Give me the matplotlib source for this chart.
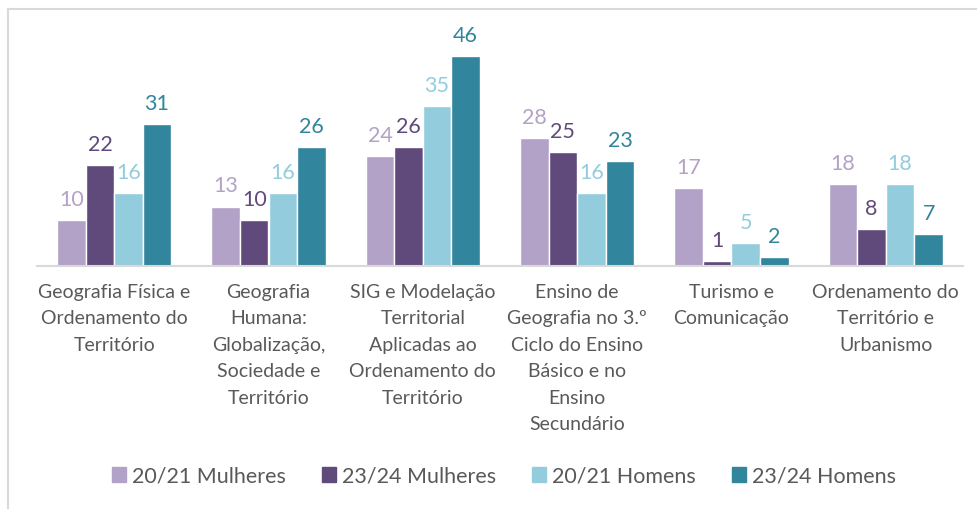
import matplotlib
matplotlib.use("Agg")
import matplotlib.pyplot as plt
from matplotlib.lines import Line2D
import numpy as np

categories = [
    "Geografia Física e\nOrdenamento do\nTerritório",
    "Geografia\nHumana:\nGlobalização,\nSociedade e\nTerritório",
    "SIG e Modelação\nTerritorial\nAplicadas ao\nOrdenamento do\nTerritório",
    "Ensino de\nGeografia no 3.º\nCiclo do Ensino\nBásico e no\nEnsino\nSecundário",
    "Turismo e\nComunicação",
    "Ordenamento do\nTerritório e\nUrbanismo",
]
series_names = ["20/21 Mulheres", "23/24 Mulheres", "20/21 Homens", "23/24 Homens"]
mulheres_2021 = [10, 13, 24, 28, 17, 18]
mulheres_2324 = [22, 10, 26, 25, 1, 8]
homens_2021 = [16, 16, 35, 16, 5, 18]
homens_2324 = [31, 26, 46, 23, 2, 7]
colors = ["#B3A2C7", "#604A7B", "#93CDDD", "#31859C"]

plt.rcParams['font.family'] = ['Lato', 'DejaVu Sans']
fig = plt.figure(figsize=(9.78, 5.1), dpi=100)
ax = fig.add_axes([37/978, 1-267/510, 926/978, 228.5/510])

x = np.arange(len(categories))
w = 0.185
data = [mulheres_2021, mulheres_2324, homens_2021, homens_2324]
for i, (vals, c) in enumerate(zip(data, colors)):
    pos = x + (i - 1.5) * w
    ax.bar(pos, vals, width=w, color=c, edgecolor="white", linewidth=1, label=series_names[i])
    for p, v in zip(pos, vals):
        ax.annotate(str(v), (p, v), xytext=(0, 8), textcoords="offset points",
                    ha="center", va="bottom", color=c, fontsize=15.5)

ax.set_xlim(-0.5, len(categories) - 0.5)
ax.set_ylim(0, 50)
ax.set_yticks([])
ax.set_xticks(x)
ax.set_xticklabels(categories, fontsize=14, color="#595959", linespacing=1.68)
ax.tick_params(axis="x", length=0, pad=12)
for s in ["top", "right", "left"]:
    ax.spines[s].set_visible(False)
ax.spines["bottom"].set_color("#D9D9D9")
ax.spines["bottom"].set_linewidth(1.5)

handles = [plt.Rectangle((0, 0), 1, 1, color=c) for c in colors]
fig.legend(handles, series_names, loc="center", bbox_to_anchor=(504/978, 1-477/510),
           ncol=4, frameon=False, fontsize=15.5, labelcolor="#595959",
           handlelength=0.65, handleheight=0.65, handletextpad=0.3, columnspacing=1.66)

fig.add_artist(Line2D([8/978, 8/978], [0, 1-10/510], color="#D9D9D9", lw=1.5))
fig.add_artist(Line2D([8/978, 1], [1-10/510, 1-10/510], color="#D9D9D9", lw=1.5))

fig.savefig("out.png", dpi=100, facecolor="white")
